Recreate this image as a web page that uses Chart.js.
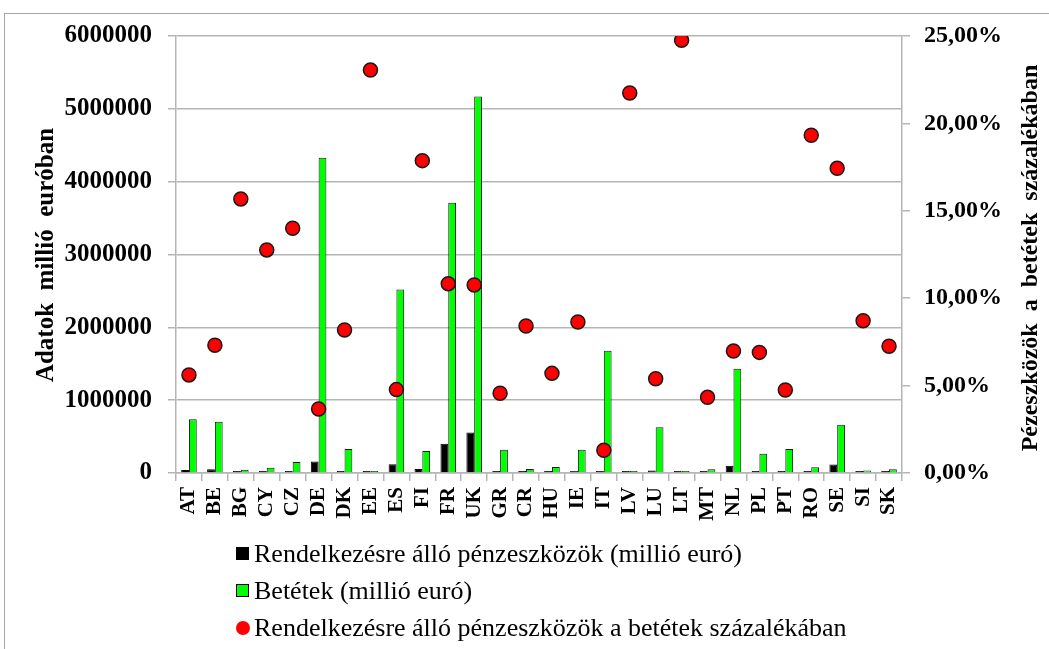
<!DOCTYPE html>
<html>
<head>
<meta charset="utf-8">
<script src="https://cdn.jsdelivr.net/npm/chart.js@4.4.1/dist/chart.umd.min.js"></script>
<style>
  html, body { margin: 0; padding: 0; background: #fff; }
  #wrap { position: relative; width: 1049px; height: 649px; overflow: hidden; }
  #frame { position: absolute; left: 4px; top: 13px; width: 1200px; height: 800px; border: 1.5px solid #a6a6a6; }
  #chart { position: absolute; left: 0; top: 0; }
  #legend { position: absolute; left: 236px; top: 535px; font-family: "Liberation Serif", serif; font-size: 26px; color: #000; }
  #legend div { height: 37px; line-height: 37px; display: flex; align-items: center; }
  #legend span.box { display: inline-block; width: 13px; height: 13px; margin-right: 5px; box-sizing: border-box; border: 1px solid #000; }
  #legend span.dot { display: inline-block; width: 14px; height: 14px; margin-right: 4px; border-radius: 50%; box-sizing: border-box; }
</style>
</head>
<body>
<div id="wrap">
  <div id="frame"></div>
  <canvas id="chart" width="1049" height="649"></canvas>
  <div id="legend"></div>
</div>
<script>
const countries = ['AT','BE','BG','CY','CZ','DE','DK','EE','ES','FI','FR','UK','GR','CR','HU','IE','IT','LV','LU','LT','MT','NL','PL','PT','RO','SE','SI','SK'];

// Rendelkezésre álló pénzeszközök (millió euró)
const availableFunds = [41000, 52000, 7000, 9000, 21000, 158000, 27000, 3000, 120000, 54000, 402000, 556000, 15000, 5000, 5000, 28000, 22000, 5000, 34000, 5000, 2000, 100000, 18000, 16000, 15000, 116000, 3000, 4000];

// Betétek (millió euró)
const deposits = [737000, 705000, 45000, 73000, 151000, 4330000, 330000, 15000, 2520000, 302000, 3710000, 5170000, 320000, 55000, 82000, 320000, 1680000, 25000, 627000, 20000, 50000, 1430000, 265000, 330000, 78000, 663000, 35000, 50000];

// pénzeszközök a betétek százalékában
const fundsPercent = [5.61, 7.31, 15.68, 12.76, 14.0, 3.66, 8.18, 23.05, 4.77, 17.87, 10.83, 10.76, 4.56, 8.41, 5.70, 8.64, 1.30, 21.74, 5.39, 24.75, 4.33, 6.98, 6.90, 4.75, 19.32, 17.43, 8.71, 7.25];

const leftTicks = [0, 1000000, 2000000, 3000000, 4000000, 5000000, 6000000];
const rightTicks = [0, 5, 10, 15, 20, 25];

const leftTitle = 'Adatok  millió  euróban';
const rightTitle = 'Pézeszközök  a  betétek  százalékában';

const gridColor = '#b5b5b5';
const serif = '"Liberation Serif", "Times New Roman", serif';

// axis titles, both reading bottom to top like in the excel original
const axisTitles = {
  id: 'axisTitles',
  afterDraw(chart) {
    const ctx = chart.ctx;
    ctx.save();
    ctx.font = 'bold 25px ' + serif;
    ctx.fillStyle = '#000';
    ctx.textAlign = 'center';
    ctx.textBaseline = 'alphabetic';
    ctx.translate(53, 255);
    ctx.rotate(-Math.PI / 2);
    ctx.fillText(leftTitle, 0, 0);
    ctx.restore();

    ctx.save();
    ctx.font = 'bold 24px ' + serif;
    ctx.fillStyle = '#000';
    ctx.textAlign = 'center';
    ctx.textBaseline = 'alphabetic';
    ctx.translate(1037, 258);
    ctx.rotate(-Math.PI / 2);
    ctx.fillText(rightTitle, 0, 0);
    ctx.restore();
  }
};

const chart = new Chart(document.getElementById('chart'), {
  type: 'bar',
  data: {
    labels: countries,
    datasets: [
      {
        type: 'line',
        label: 'Rendelkezésre álló pénzeszközök a betétek százalékában',
        data: fundsPercent,
        yAxisID: 'y1',
        showLine: false,
        pointRadius: 7,
        pointBackgroundColor: '#ff0000',
        pointBorderColor: '#1a1a1a',
        pointBorderWidth: 1.5,
        backgroundColor: '#ff0000',
        order: 0
      },
      {
        label: 'Rendelkezésre álló pénzeszközök (millió euró)',
        data: availableFunds,
        backgroundColor: '#000000',
        borderColor: '#000000',
        borderWidth: 1,
        minBarLength: 2,
        yAxisID: 'y',
        order: 1
      },
      {
        label: 'Betétek (millió euró)',
        data: deposits,
        backgroundColor: '#00ff00',
        borderColor: '#1a1a1a',
        borderWidth: 1,
        minBarLength: 2,
        yAxisID: 'y',
        order: 1
      }
    ]
  },
  options: {
    responsive: false,
    animation: false,
    devicePixelRatio: 1,
    layout: { padding: { top: 36, left: 0, right: 0, bottom: 0 } },
    categoryPercentage: 0.6,
    barPercentage: 1.0,
    plugins: {
      legend: { display: false },
      tooltip: { enabled: false }
    },
    scales: {
      x: {
        afterFit: s => { s.height = 176; },
        grid: { display: true, drawOnChartArea: false, drawTicks: true, tickLength: 8, color: gridColor, lineWidth: 1.5, offset: true },
        border: { color: gridColor, width: 1.5 },
        ticks: {
          minRotation: 90, maxRotation: 90, autoSkip: false, padding: 6,
          color: '#000',
          font: { family: serif, size: 21, weight: 'bold' }
        }
      },
      y: {
        position: 'left',
        min: 0, max: 6000000,
        afterFit: s => { s.width = 176; },
        afterBuildTicks: s => { s.ticks = leftTicks.map(v => ({ value: v })); },
        grid: { color: gridColor, lineWidth: 1.5, tickLength: 8 },
        border: { color: gridColor, width: 1.5 },
        ticks: {
          padding: 16,
          color: '#000',
          font: { family: serif, size: 25, weight: 'bold' },
          callback: v => String(v)
        }
      },
      y1: {
        position: 'right',
        min: 0, max: 25,
        afterFit: s => { s.width = 1049 - 902; },
        afterBuildTicks: s => { s.ticks = rightTicks.map(v => ({ value: v })); },
        grid: { drawOnChartArea: false, color: gridColor, lineWidth: 1.5, tickLength: 8 },
        border: { color: gridColor, width: 1.5 },
        ticks: {
          padding: 14,
          color: '#000',
          font: { family: serif, size: 24, weight: 'bold' },
          callback: v => v.toFixed(2).replace('.', ',') + '%'
        }
      }
    }
  },
  plugins: [axisTitles]
});

// legend below the plot, one item per row like in the original
const legendOrder = [1, 2, 0];
const legendEl = document.getElementById('legend');
legendOrder.forEach(i => {
  const ds = chart.data.datasets[i];
  const row = document.createElement('div');
  const mark = document.createElement('span');
  if (ds.type === 'line') {
    mark.className = 'dot';
    mark.style.background = ds.pointBackgroundColor;
  } else {
    mark.className = 'box';
    mark.style.background = ds.backgroundColor;
  }
  row.appendChild(mark);
  row.appendChild(document.createTextNode(ds.label));
  legendEl.appendChild(row);
});
</script>
</body>
</html>
